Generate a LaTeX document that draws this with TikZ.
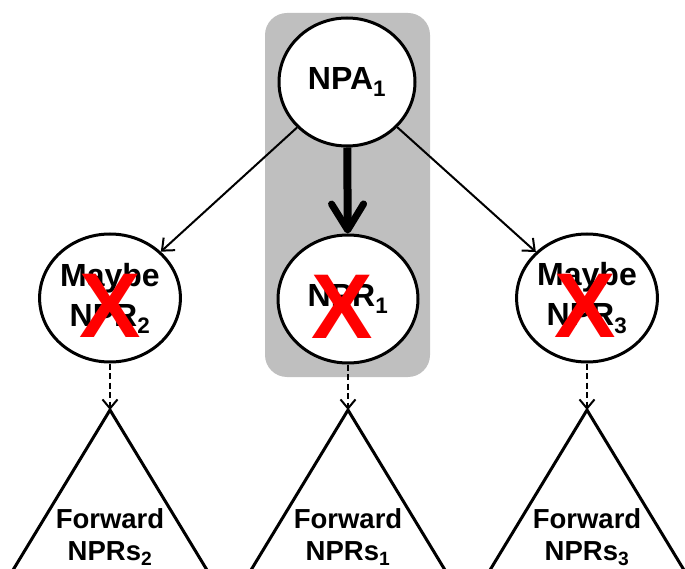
\documentclass[tikz,border=0pt]{standalone}
\usepackage{fontspec}
\setmainfont{Liberation Sans}
\usetikzlibrary{shapes.geometric,arrows.meta}
\begin{document}
\begin{tikzpicture}[x=1pt,y=-1pt,
  state/.style={ellipse,draw=black,line width=3pt,fill=white,inner sep=0pt,
    minimum width=136pt,minimum height=128pt,align=center,
    font=\fontsize{32}{40}\selectfont\bfseries},
  cross/.style={text=red,font=\fontsize{92}{92}\selectfont\bfseries,inner sep=0pt},
  thin arrow/.style={line width=2pt,-{Straight Barb[length=10pt,width=17pt,line width=2pt]}},
  thick arrow/.style={line width=8pt,-{Straight Barb[length=26pt,width=32pt,line width=7pt,round]}},
  dash arrow/.style={line width=2pt,dash pattern=on 6pt off 3.5pt,-{Straight Barb[length=9pt,width=15pt,line width=2pt]}},
  tri/.style={line width=3pt,line join=miter},
  tritext/.style={align=center,font=\fontsize{27.5}{32}\selectfont\bfseries},
]
\useasboundingbox (0,0) rectangle (685,569);
\fill[gray!50,rounded corners=22pt] (265,13) rectangle (430,377);

\node[state] (npa) at (347,82) {NPA\textsubscript{1}};
\node[state,minimum width=140pt] (npr1) at (348,299) {NPR\textsubscript{1}};
\node[state,minimum width=140pt] (m2) at (110,298) {Maybe\\NPR\textsubscript{2}};
\node[state,minimum width=139pt] (m3) at (587,298) {Maybe\\NPR\textsubscript{3}};

\node[cross] (x2) at (110,306) {X};
\node[cross] (x1) at (342,307) {X};
\node[cross] (x3) at (585,306) {X};

\draw[thin arrow] (npa) -- (m2);
\draw[thin arrow] (npa) -- (m3);
\draw[thick arrow] (npa) -- (npr1);

\coordinate (t2) at (110,410);
\coordinate (t1) at (348,410);
\coordinate (t3) at (587,410);

\foreach \t in {t1,t2,t3}{
  \draw[tri] ([shift={(-100pt,-165pt)}]\t) -- (\t) -- ([shift={(100pt,-165pt)}]\t);
}

\draw[dash arrow] (m2) -- (t2);
\draw[dash arrow] (npr1) -- (t1);
\draw[dash arrow] (m3) -- (t3);

\node[tritext] (f2) at (110,537) {Forward\\NPRs\textsubscript{2}};
\node[tritext] (f1) at (348,537) {Forward\\NPRs\textsubscript{1}};
\node[tritext] (f3) at (587,537) {Forward\\NPRs\textsubscript{3}};
\end{tikzpicture}
\end{document}
